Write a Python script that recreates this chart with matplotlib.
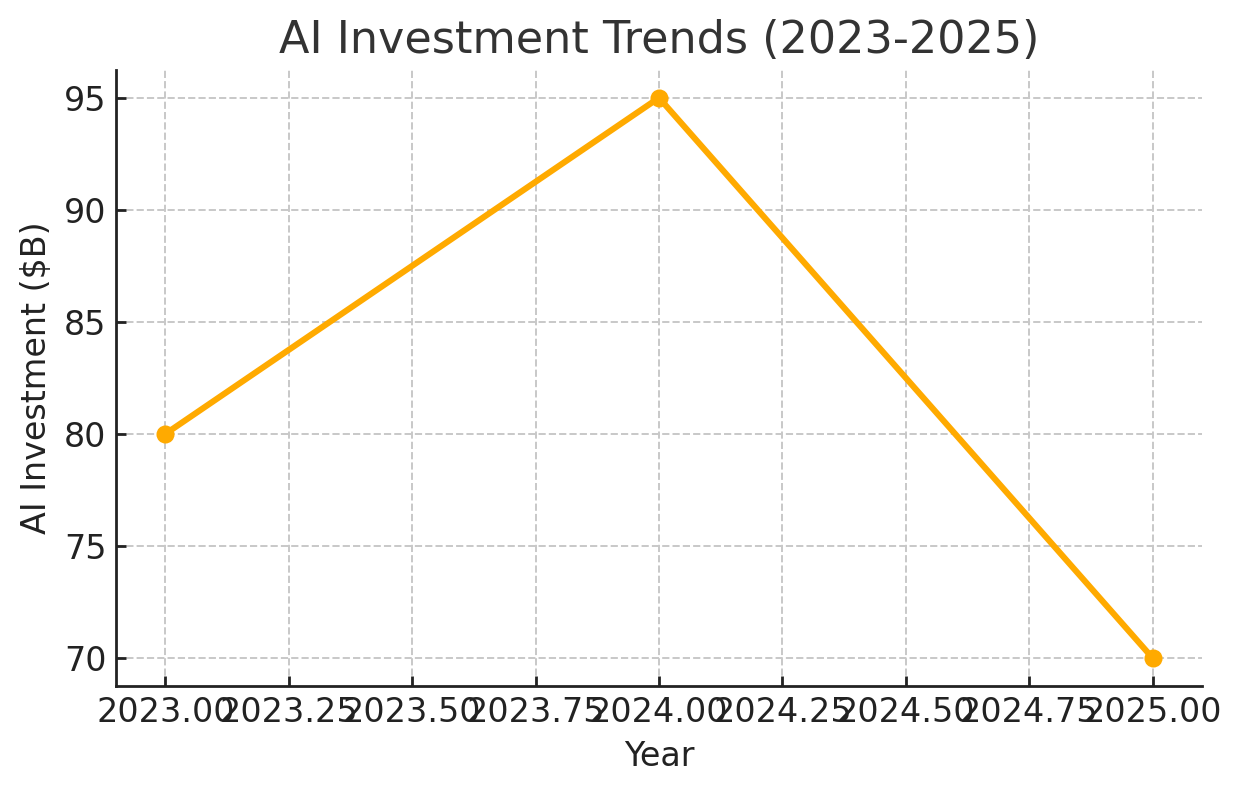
import matplotlib
matplotlib.use("Agg")
import matplotlib.pyplot as plt

years = [2023, 2024, 2025]
investment = [80, 95, 70]

plt.rcParams['font.family'] = 'DejaVu Sans'

fig = plt.figure(figsize=(6.205, 3.965), dpi=200)
ax = fig.add_axes([0.0935, 0.135, 0.875, 0.777])

ax.plot(years, investment, marker='o', color='#FFAA00', linewidth=2.2, markersize=5.5)

ax.set_title('AI Investment Trends (2023-2025)', fontsize=16, color='#333333')
ax.set_xlabel('Year', fontsize=12, color='#222222')
ax.set_ylabel('AI Investment ($B)', fontsize=12, color='#222222')
ax.tick_params(labelsize=12, colors='#222222', direction='in', length=3.5, width=1)

ax.grid(True, linestyle='--', color='#c8c8c8', linewidth=0.7)
ax.spines['top'].set_visible(False)
ax.spines['right'].set_visible(False)
for s in ['left', 'bottom']:
    ax.spines[s].set_color('#222222')
    ax.spines[s].set_linewidth(1.0)

fig.savefig('out.png', dpi=200)
